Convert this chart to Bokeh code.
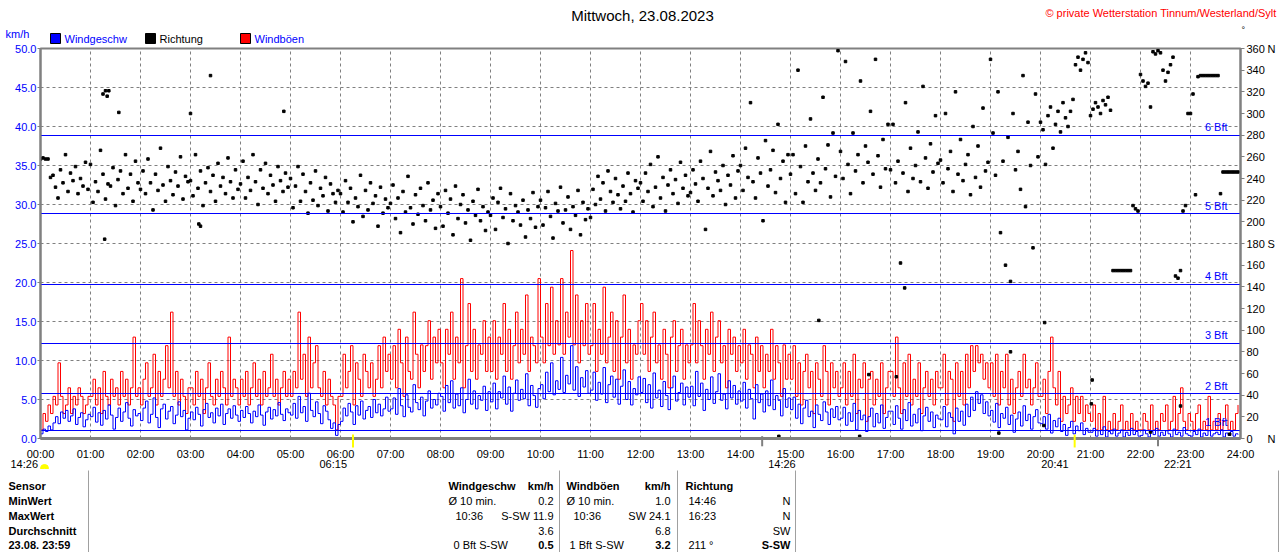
from bokeh.plotting import figure
from bokeh.models import Range1d, LinearAxis, FixedTicker, NumeralTickFormatter
from bokeh.core.properties import value
from bokeh.embed import file_html
from bokeh.resources import INLINE
import math

FONT = "Liberation Sans"

# ---- data (3 minute values, one row per hour) ----
minutes = list(range(0, 1440, 3))

# Windgeschw km/h
speed = [
    0.6, 1.2, 0.9, 1.6, 1.1, 2.0, 2.8, 1.9, 3.4, 2.6, 3.6, 2.2, 2.9, 3.8, 1.8, 2.7, 3.3, 1.5, 2.4, 3.1,
    2.8, 4.0, 2.1, 3.3, 1.7, 3.6, 2.5, 4.3, 3.0, 1.2, 2.7, 3.9, 2.2, 3.4, 4.6, 2.6, 1.6, 3.7, 2.9, 3.2,
    2.3, 3.9, 4.8, 2.0, 3.1, 5.2, 2.7, 1.4, 3.8, 4.4, 2.5, 3.5, 4.1, 1.9, 3.0, 4.7, 2.8, 3.6, 1.1, 2.6,
    3.4, 2.4, 4.0, 3.1, 1.6, 3.7, 4.5, 2.7, 3.3, 2.0, 3.9, 2.9, 4.4, 1.8, 3.2, 3.8, 2.6, 4.2, 3.0, 2.2,
    3.6, 2.7, 4.1, 3.2, 2.0, 3.5, 2.8, 4.3, 3.0, 1.7, 3.4, 4.0, 2.5, 3.7, 2.9, 4.6, 3.1, 2.3, 3.8, 3.3,
    3.0, 4.5, 2.6, 5.4, 3.3, 4.1, 2.2, 5.8, 3.6, 2.8, 4.7, 3.2, 1.9, 4.2, 3.5, 2.4, 1.3, 2.0, 0.4, 1.8,
    2.2, 3.9, 2.9, 4.5, 3.4, 1.8, 4.2, 3.0, 4.8, 2.5, 3.6, 4.1, 2.7, 5.0, 3.3, 4.4, 2.9, 3.8, 5.3, 3.5,
    3.8, 5.2, 3.1, 6.4, 4.2, 2.8, 5.6, 4.0, 3.4, 6.9, 4.6, 3.7, 5.3, 2.9, 4.8, 6.1, 3.9, 5.0, 4.3, 5.8,
    5.4, 3.5, 6.8, 4.6, 7.4, 3.9, 5.7, 4.2, 6.5, 3.3, 5.0, 7.6, 4.4, 6.1, 3.8, 5.5, 4.9, 6.7, 3.6, 6.0,
    4.7, 7.1, 3.8, 6.0, 5.2, 8.0, 4.4, 6.6, 3.5, 5.8, 7.5, 4.9, 6.3, 5.1, 8.3, 4.2, 6.8, 5.5, 4.0, 6.4,
    6.9, 5.1, 8.5, 6.0, 9.7, 5.6, 7.4, 6.3, 10.4, 5.9, 8.1, 7.0, 11.9, 6.2, 9.2, 5.4, 7.8, 6.6, 8.7, 5.8,
    6.2, 8.5, 4.9, 7.2, 5.7, 9.1, 4.6, 6.9, 8.0, 5.3, 7.6, 4.4, 6.7, 8.8, 5.0, 7.3, 4.3, 6.4, 5.6, 7.9,
    5.9, 7.7, 4.6, 6.9, 3.9, 8.4, 5.2, 6.2, 4.1, 7.3, 5.5, 3.7, 6.5, 8.0, 4.8, 5.9, 7.1, 4.3, 6.6, 5.3,
    6.7, 4.2, 8.6, 5.4, 7.1, 3.6, 6.3, 5.0, 7.9, 4.5, 6.0, 8.3, 4.9, 5.7, 3.8, 7.4, 5.2, 6.8, 4.4, 6.1,
    4.8, 7.2, 3.9, 6.3, 5.1, 2.5, 6.9, 4.6, 5.7, 3.4, 6.1, 4.2, 7.5, 3.7, 5.5, 4.9, 2.9, 6.4, 4.0, 5.2,
    3.7, 5.3, 2.6, 4.4, 1.9, 3.9, 4.9, 2.8, 3.5, 1.4, 4.3, 3.1, 2.3, 4.7, 3.4, 1.8, 3.8, 2.7, 4.1, 2.4,
    2.6, 4.0, 1.7, 3.3, 2.2, 4.5, 1.1, 3.6, 2.4, 3.0, 0.9, 2.8, 3.9, 1.5, 3.2, 2.0, 4.3, 1.3, 2.7, 3.5,
    3.5, 1.8, 4.2, 2.6, 1.2, 3.7, 2.3, 4.6, 1.6, 3.1, 2.0, 3.8, 1.0, 2.9, 4.0, 2.2, 3.4, 1.4, 3.0, 2.5,
    2.4, 4.1, 1.5, 3.3, 2.7, 0.6, 3.9, 2.2, 3.5, 1.7, 4.4, 2.8, 5.3, 3.6, 6.0, 4.5, 5.6, 3.2, 4.7, 2.9,
    3.6, 2.1, 4.5, 1.4, 3.2, 2.6, 4.0, 1.8, 3.0, 0.8, 2.5, 3.4, 1.6, 4.2, 2.3, 3.1, 1.2, 2.8, 3.7, 2.0,
    1.9, 2.8, 1.2, 3.1, 0.7, 2.3, 1.5, 2.6, 0.9, 1.8, 0.4, 1.4, 2.2, 0.6, 1.6, 1.0, 2.0, 0.5, 1.3, 0.8,
    0.8, 1.3, 0.3, 1.0, 0.5, 1.5, 0.2, 0.9, 0.6, 1.2, 0.3, 0.7, 1.1, 0.2, 0.8, 0.4, 1.3, 0.5, 0.9, 0.3,
    0.4, 1.1, 0.6, 0.2, 0.9, 0.5, 1.3, 0.3, 0.8, 0.4, 1.0, 0.6, 0.2, 1.2, 0.5, 0.8, 0.3, 1.4, 0.6, 0.4,
    0.3, 0.9, 0.5, 1.2, 0.2, 0.7, 0.4, 1.0, 0.3, 0.6, 0.8, 0.5, 1.1, 0.2, 0.7, 0.4, 0.9, 0.3, 0.6, 0.5,
]

# Windböen km/h
gust = [
    1.1, 3.2, 2.2, 4.3, 3.2, 5.4, 4.3, 9.7, 5.4, 3.2, 4.3, 6.5, 3.2, 5.4, 4.3, 6.5, 5.4, 3.2, 4.3, 5.4,
    5.4, 7.6, 4.3, 6.5, 3.2, 8.6, 5.4, 4.3, 7.6, 5.4, 6.5, 4.3, 8.6, 5.4, 7.6, 4.3, 6.5, 13.0, 5.4, 6.5,
    4.3, 7.6, 9.7, 5.4, 6.5, 10.8, 4.3, 8.6, 5.4, 7.6, 11.9, 6.5, 16.2, 5.4, 8.6, 4.3, 7.6, 5.4, 3.2, 6.5,
    6.5, 4.3, 8.6, 5.4, 7.6, 3.2, 6.5, 9.7, 5.4, 4.3, 7.6, 5.4, 8.6, 6.5, 4.3, 13.0, 5.4, 7.6, 6.5, 4.3,
    7.6, 5.4, 8.6, 4.3, 6.5, 9.7, 5.4, 7.6, 4.3, 8.6, 5.4, 6.5, 10.8, 5.4, 7.6, 4.3, 6.5, 8.6, 5.4, 7.6,
    5.4, 8.6, 6.5, 16.2, 7.6, 10.8, 5.4, 13.0, 6.5, 9.7, 11.9, 6.5, 5.4, 8.6, 4.3, 7.6, 5.4, 4.3, 1.1, 5.4,
    5.4, 10.8, 6.5, 8.6, 11.9, 4.3, 9.7, 7.6, 5.4, 10.8, 8.6, 6.5, 9.7, 5.4, 7.6, 11.9, 6.5, 13.0, 8.6, 10.8,
    7.6, 11.9, 6.5, 14.0, 9.7, 5.4, 13.0, 8.6, 7.6, 16.2, 10.8, 6.5, 12.0, 8.6, 11.9, 15.1, 7.6, 13.0, 9.7, 14.0,
    9.7, 6.5, 14.0, 10.8, 16.2, 7.6, 13.0, 9.7, 20.5, 6.5, 11.9, 17.3, 8.6, 14.0, 7.6, 12.0, 10.8, 15.1, 8.6, 13.0,
    8.6, 15.1, 7.6, 13.0, 10.8, 17.3, 8.6, 14.0, 7.6, 11.9, 16.2, 9.7, 14.0, 10.8, 18.4, 8.6, 13.0, 11.9, 9.7, 20.5,
    13.0, 9.7, 17.3, 11.9, 19.4, 10.8, 15.1, 12.0, 20.5, 10.8, 16.2, 13.0, 24.1, 12.0, 18.4, 9.7, 15.1, 11.9, 17.3, 10.8,
    11.9, 17.3, 8.6, 14.0, 10.8, 19.4, 9.7, 13.0, 16.2, 8.6, 15.1, 7.6, 13.0, 18.4, 9.7, 14.0, 7.6, 12.0, 10.8, 15.1,
    17.3, 10.8, 15.1, 8.6, 13.0, 16.2, 9.7, 12.0, 7.6, 14.0, 10.8, 6.5, 13.0, 15.1, 8.6, 11.9, 14.0, 7.6, 12.0, 9.7,
    12.0, 17.3, 9.7, 15.1, 11.9, 7.6, 14.0, 10.8, 16.2, 8.6, 13.0, 15.1, 9.7, 11.9, 6.5, 14.0, 10.8, 13.0, 8.6, 11.9,
    9.7, 14.0, 7.6, 12.0, 10.8, 6.5, 13.0, 8.6, 11.9, 6.5, 10.8, 8.6, 14.0, 7.6, 11.9, 9.7, 5.4, 12.0, 7.6, 10.8,
    7.6, 11.9, 5.4, 9.7, 4.3, 8.6, 10.8, 6.5, 8.6, 3.2, 9.7, 7.6, 5.4, 11.9, 8.6, 4.3, 9.7, 6.5, 8.6, 5.4,
    6.5, 9.7, 4.3, 8.6, 5.4, 10.8, 3.2, 7.6, 6.5, 9.7, 2.2, 7.6, 8.6, 4.3, 7.6, 5.4, 9.7, 3.2, 6.5, 8.6,
    8.6, 5.4, 13.0, 6.5, 3.2, 9.7, 5.4, 10.8, 4.3, 7.6, 5.4, 9.7, 3.2, 6.5, 8.6, 5.4, 7.6, 4.3, 8.6, 6.5,
    6.5, 10.8, 4.3, 8.6, 7.6, 2.2, 9.7, 5.4, 8.6, 4.3, 10.8, 6.5, 11.9, 8.6, 11.9, 9.7, 10.8, 7.6, 9.7, 6.5,
    9.7, 5.4, 10.8, 4.3, 8.6, 6.5, 10.8, 4.3, 7.6, 3.2, 6.5, 8.6, 5.4, 10.8, 6.5, 7.6, 4.3, 6.5, 9.7, 5.4,
    5.4, 7.6, 3.2, 8.6, 13.0, 6.5, 4.3, 8.6, 2.2, 5.4, 3.2, 4.3, 6.5, 2.2, 5.4, 3.2, 5.4, 2.2, 4.3, 3.2,
    2.2, 4.3, 1.1, 3.2, 1.1, 5.4, 1.1, 2.2, 1.1, 3.2, 1.1, 2.2, 4.3, 1.1, 2.2, 1.1, 3.2, 1.1, 2.2, 1.1,
    1.1, 3.2, 2.2, 1.1, 4.3, 1.1, 2.2, 1.1, 3.2, 2.2, 4.3, 1.1, 2.2, 5.4, 1.1, 3.2, 6.5, 2.2, 1.1, 3.2,
    2.2, 1.1, 3.2, 4.3, 1.1, 2.2, 1.1, 5.4, 1.1, 2.2, 1.1, 3.2, 1.1, 2.2, 4.3, 1.1, 2.2, 1.1, 3.2, 4.3,
]

# Richtung in degrees
direction = [
    258, 259, 258, 258, 241, 243, 232, 222, 248, 236, 262, 228, 245, 238, 251, 226, 240, 233, 255, 230,
    253, 218, 237, 228, 266, 244, 221, 235, 233, 250, 215, 239, 247, 226, 262, 231, 244, 219, 256, 236,
    230, 247, 226, 258, 236, 211, 244, 229, 268, 234, 219, 251, 238, 225, 246, 233, 260, 221, 242, 237,
    238, 224, 262, 231, 247, 215, 236, 250, 228, 243, 219, 254, 233, 241, 226, 259, 237, 222, 248, 230,
    235, 256, 222, 241, 229, 262, 237, 216, 248, 231, 254, 226, 243, 234, 219, 251, 238, 228, 245, 232,
    240, 213, 233, 251, 219, 244, 228, 208, 236, 220, 247, 215, 231, 224, 241, 210, 235, 226, 218, 229,
    226, 209, 238, 218, 231, 200, 222, 214, 243, 205, 229, 211, 236, 217, 224, 196, 232, 208, 221, 213,
    217, 234, 203, 222, 190, 228, 209, 242, 213, 198, 225, 207, 231, 215, 201, 236, 211, 220, 194, 226,
    214, 196, 229, 208, 221, 188, 233, 203, 216, 225, 199, 211, 183, 219, 206, 230, 201, 214, 192, 209,
    206, 222, 193, 218, 231, 204, 212, 180, 226, 201, 215, 209, 197, 220, 186, 211, 203, 227, 195, 214,
    220, 197, 213, 228, 205, 185, 217, 210, 232, 199, 211, 223, 193, 214, 206, 229, 188, 218, 202, 212,
    204, 230, 216, 242, 221, 236, 210, 247, 228, 218, 240, 225, 212, 233, 219, 245, 226, 209, 238, 231,
    236, 219, 245, 228, 253, 214, 232, 260, 222, 241, 210, 234, 248, 226, 239, 217, 255, 231, 243, 224,
    227, 248, 235, 219, 256, 240, 193, 231, 265, 224, 246, 238, 229, 252, 216, 243, 234, 261, 222, 247,
    252, 229, 268, 241, 310, 237, 222, 259, 245, 201, 275, 233, 248, 266, 227, 290, 240, 256, 218, 262,
    244, 262, 226, 340, 251, 218, 270, 237, 295, 245, 229, 258, 236, 315, 249, 271, 223, 282, 242, 358,
    265, 240, 348, 253, 226, 282, 247, 262, 330, 236, 270, 255, 302, 244, 350, 261, 232, 276, 249, 290,
    248, 290, 236, 256, 162, 245, 310, 228, 268, 240, 252, 283, 237, 325, 259, 231, 272, 246, 298, 254,
    257, 236, 300, 249, 265, 228, 320, 244, 276, 238, 253, 262, 225, 288, 241, 270, 232, 305, 247, 255,
    350, 282, 243, 320, 190, 256, 160, 278, 145, 300, 248, 265, 230, 335, 214, 292, 252, 176, 318, 260,
    292, 285, 253, 298, 306, 268, 290, 302, 283, 310, 296, 288, 302, 313, 345, 352, 340, 350, 356, 347,
    298, 304, 310, 306, 300, 312, 308, 315, 303, 155, 155, 155, 155, 155, 155, 155, 155, 215, 212, 210,
    336, 330, 325, 328, 306, 357, 355, 358, 356, 340, 330, 338, 345, 352, 150, 148, 155, 210, 215, 300,
    300, 318, 225, 334, 335, 335, 335, 335, 335, 335, 335, 335, 226, 246, 246, 246, 246, 246, 246, 246,
]

# single outlying direction readings
extra_dir_minutes = [75, 77, 78, 80, 82, 94, 180, 190, 192, 204, 292,
                     886, 934, 983, 994, 1027, 1037, 1150, 1164, 1204,
                     1205, 1261, 1262, 1332, 1368, 1427]
extra_dir_deg = [318, 184, 321, 316, 321, 301, 300, 198, 196, 335, 302,
                 2, 109, 2, 59, 57, 139, 5, 80, 12,
                 107, 32, 54, 6, 30, 4]

hour_ticks = list(range(0, 25))
kmh_ticks = [0, 5, 10, 15, 20, 25, 30, 35, 40, 45, 50]
deg_ticks = list(range(0, 361, 20))

bft_levels = [1.08, 5.76, 12.24, 19.8, 28.8, 38.88]
bft_names = ["1 Bft", "2 Bft", "3 Bft", "4 Bft", "5 Bft", "6 Bft"]

sun_events = ["06:15", "20:41"]
moon_events = ["14:26", "22:21"]

table_rows = ["Sensor", "MinWert", "MaxWert", "Durchschnitt", "23.08.  23:59"]


def to_hours(t):
    hh, mm = t.split(":")
    return int(hh) + int(mm) / 60


hours = [m / 60 for m in minutes]
extra_hours = [m / 60 for m in extra_dir_minutes]

BLUE = "#0000FF"
RED = "#FF0000"
GRAY = "#808080"

p = figure(
    width=1280, height=552,
    x_range=Range1d(0, 24), y_range=Range1d(0, 50),
    output_backend="svg", toolbar_location=None, tools="",
    min_border_left=40, min_border_right=40,
    min_border_top=48, min_border_bottom=114,
)
p.background_fill_color = "white"
p.border_fill_color = "white"
p.outline_line_color = GRAY
p.outline_line_width = 2

# ranges for page positions of texts and for the direction axis
p.extra_x_ranges = {"px": Range1d(40, 1240)}
p.extra_y_ranges = {"py": Range1d(438, 48), "deg": Range1d(0, 360)}

# axes
p.xaxis.ticker = FixedTicker(ticks=hour_ticks)
p.xaxis.major_label_overrides = {h: f"{h:02d}:00" for h in hour_ticks}
p.xaxis.axis_line_color = GRAY
p.xaxis.axis_line_width = 3
p.xaxis.major_tick_line_color = None
p.xaxis.minor_tick_line_color = None
p.xaxis.major_label_standoff = 3
p.xaxis.major_label_text_font = FONT
p.xaxis.major_label_text_font_size = "11px"
p.xaxis.major_label_text_color = "black"

p.yaxis.ticker = FixedTicker(ticks=kmh_ticks)
p.yaxis.formatter = NumeralTickFormatter(format="0.0")
p.yaxis.axis_line_color = GRAY
p.yaxis.axis_line_width = 2
p.yaxis.major_tick_line_color = GRAY
p.yaxis.major_tick_in = 0
p.yaxis.major_tick_out = 3
p.yaxis.minor_tick_line_color = None
p.yaxis.major_label_standoff = 1
p.yaxis.major_label_text_font = FONT
p.yaxis.major_label_text_font_size = "11px"
p.yaxis.major_label_text_color = BLUE

deg_axis = LinearAxis(y_range_name="deg", ticker=FixedTicker(ticks=deg_ticks))
deg_axis.axis_line_color = GRAY
deg_axis.axis_line_width = 2
deg_axis.major_tick_line_color = GRAY
deg_axis.major_tick_in = 0
deg_axis.major_tick_out = 4
deg_axis.minor_tick_line_color = None
deg_axis.major_label_standoff = 2
deg_axis.major_label_text_font = FONT
deg_axis.major_label_text_font_size = "11px"
deg_axis.major_label_text_color = "black"
p.add_layout(deg_axis, "right")

# grid
p.xgrid.ticker = FixedTicker(ticks=hour_ticks)
p.ygrid.ticker = FixedTicker(ticks=kmh_ticks)
for g in (p.xgrid, p.ygrid):
    g.grid_line_color = GRAY
    g.grid_line_dash = "3 3"
    g.grid_line_width = 1

# series
p.step(hours, gust, mode="after", color=RED, line_width=1)
p.step(hours, speed, mode="after", color=BLUE, line_width=1)
p.scatter(hours, direction, y_range_name="deg", marker="square", size=2.5,
          color="black")
p.scatter(extra_hours, extra_dir_deg, y_range_name="deg", marker="square",
          size=2.5, color="black")

# Beaufort lines and names
p.hspan(y=bft_levels, line_color=BLUE, line_width=1)
p.text(x=[24] * len(bft_levels), y=bft_levels, text=bft_names,
       x_offset=-13, y_offset=-8, text_align="right", text_baseline="middle",
       text_color=BLUE, text_font=value(FONT), text_font_size="11px")


def txt(x, y, s, color="black", size="11px", align="left", bold=False):
    p.text(x=[x], y=[y], text=[s], x_range_name="px", y_range_name="py",
           level="overlay", text_color=color, text_font=value(FONT),
           text_font_size=size, text_align=align, text_baseline="middle",
           text_font_style="bold" if bold else "normal")


# header
txt(642, 15, "Mittwoch, 23.08.2023", size="15px", align="center")
txt(1276, 12, "\u00a9 private Wetterstation Tinnum/Westerland/Sylt", color=RED,
    align="right")
txt(5, 33, "km/h", color=BLUE)
txt(1241, 29, "\u00b0", size="9px")
p.scatter(x=[55, 150, 245], y=[38, 38, 38], x_range_name="px", y_range_name="py",
          marker="square", size=10, fill_color=[BLUE, "black", RED],
          line_color="black", level="overlay")
txt(64, 38, "Windgeschw", color=BLUE)
txt(159, 38, "Richtung")
txt(254, 38, "Windböen", color=BLUE)

# direction letters next to the right axis
txt(1267, 48, "N")
txt(1267, 243, "S")
txt(1267, 438, "N")

# sun and moon times
sun_h = [to_hours(t) for t in sun_events]
moon_h = [to_hours(t) for t in moon_events]
p.segment(x0=sun_h, y0=[0.5] * 2, x1=sun_h, y1=[-1.15] * 2, color="#FFFF00",
          line_width=2, level="overlay")
p.segment(x0=moon_h, y0=[0.3] * 2, x1=moon_h, y1=[-1.0] * 2, color=GRAY,
          line_width=2, level="overlay")
p.text(x=sun_h, y=[463, 463], text=sun_events, y_range_name="py", x_offset=-6,
       text_align="right", text_baseline="middle", text_font=value(FONT),
       text_font_size="11px", level="overlay")
p.scatter(x=[sun_h[0]], y=[463], y_range_name="py", marker="circle", size=6,
          color="#FFFF00", level="overlay")
p.scatter(x=[sun_h[0]], y=[463], y_range_name="py", marker="asterisk", size=10,
          line_color="#FFFF00", level="overlay")
p.scatter(x=[sun_h[1]], y=[464], y_range_name="py", marker="square", size=6,
          fill_color="white", line_color="#FFFF00", level="overlay")
p.text(x=moon_h, y=[463, 463], text=moon_events, y_range_name="py", x_offset=6,
       text_align="left", text_baseline="middle", text_font=value(FONT),
       text_font_size="11px", level="overlay")
p.scatter(x=moon_h, y=[463, 463], y_range_name="py", marker="square", size=9,
          color="#000080", level="overlay")
p.scatter(x=moon_h, y=[461, 461], y_range_name="py", marker="circle", size=4,
          color="white", level="overlay")
p.scatter(x=moon_h, y=[465, 465], y_range_name="py", marker="triangle", size=5,
          color="#FFFF00", level="overlay")
txt(10, 463, "14:26")
p.wedge(x=[44], y=[468], radius=4, radius_units="screen", start_angle=0,
        end_angle=math.pi, color="#FFFF00", x_range_name="px",
        y_range_name="py", level="overlay")

# table below the chart
p.segment(x0=[88, 559, 677, 795, 1278], y0=[470] * 5,
          x1=[88, 559, 677, 795, 1278], y1=[552] * 5,
          x_range_name="px", y_range_name="py", color="#a0a0a0", level="overlay")
row_y = [485, 500, 515, 530, 544]
for label, y in zip(table_rows, row_y):
    txt(8, y, label, bold=True)

txt(448, row_y[0], "Windgeschw", bold=True)
txt(553, row_y[0], "km/h", bold=True, align="right")
txt(448, row_y[1], "Ø 10 min.")
txt(553, row_y[1], "0.2", align="right")
txt(455, row_y[2], "10:36")
txt(553, row_y[2], "S-SW 11.9", align="right")
txt(553, row_y[3], "3.6", align="right")
txt(453, row_y[4], "0 Bft S-SW")
txt(553, row_y[4], "0.5", bold=True, align="right")

txt(566, row_y[0], "Windböen", bold=True)
txt(670, row_y[0], "km/h", bold=True, align="right")
txt(566, row_y[1], "Ø 10 min.")
txt(670, row_y[1], "1.0", align="right")
txt(573, row_y[2], "10:36")
txt(670, row_y[2], "SW 24.1", align="right")
txt(670, row_y[3], "6.8", align="right")
txt(569, row_y[4], "1 Bft S-SW")
txt(670, row_y[4], "3.2", bold=True, align="right")

txt(685, row_y[0], "Richtung", bold=True)
txt(688, row_y[1], "14:46")
txt(790, row_y[1], "N", align="right")
txt(688, row_y[2], "16:23")
txt(790, row_y[2], "N", align="right")
txt(790, row_y[3], "SW", align="right")
txt(688, row_y[4], "211 °")
txt(790, row_y[4], "S-SW", bold=True, align="right")

open("out.html", "w").write(file_html(p, INLINE))
